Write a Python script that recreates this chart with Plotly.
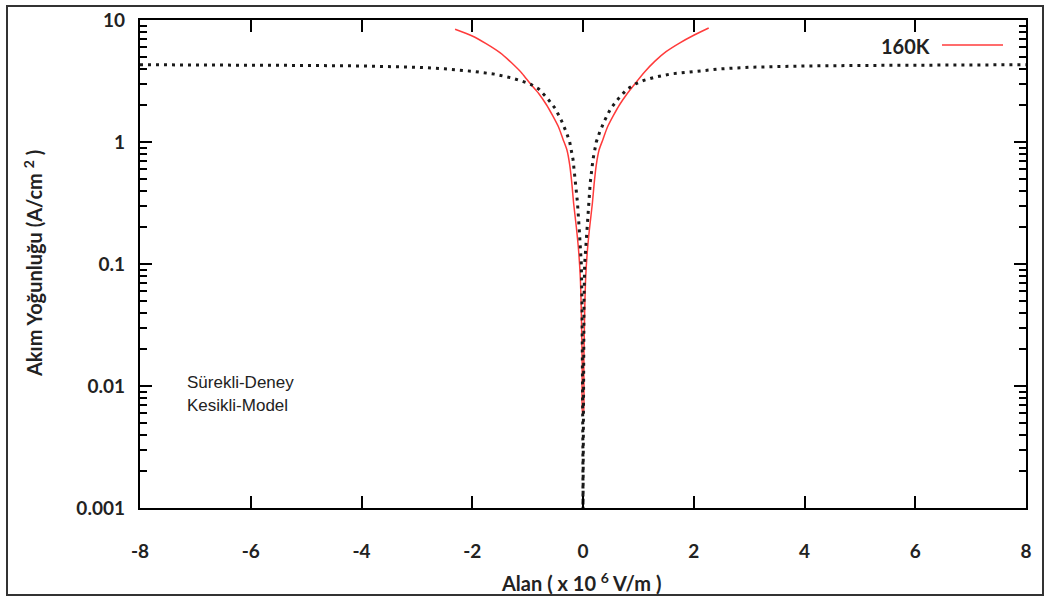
import plotly.graph_objects as go

# Sürekli-Deney (experimental, red)
exp_x = [-2.31, -2.0, -1.75, -1.5, -1.3, -1.1, -0.95, -0.8, -0.66, -0.55, -0.44, -0.36, -0.29, -0.24, -0.2,
         -0.17, -0.12, -0.08, -0.05, -0.03, -0.015, -0.008,
         0.008, 0.015, 0.03, 0.05, 0.08, 0.12, 0.17, 0.2, 0.24, 0.29, 0.36, 0.44, 0.55, 0.66,
         0.8, 0.95, 1.1, 1.3, 1.5, 1.75, 2.0, 2.27]
exp_y = [8.4, 7.4, 6.4, 5.4, 4.5, 3.65, 3.0, 2.5, 2.02, 1.65, 1.32, 1.05, 0.86, 0.65, 0.45,
         0.316, 0.2, 0.13, 0.08, 0.04, 0.015, 0.006,
         0.006, 0.015, 0.04, 0.08, 0.13, 0.2, 0.316, 0.45, 0.65, 0.86, 1.05, 1.32, 1.65, 2.02,
         2.5, 3.05, 3.7, 4.6, 5.5, 6.5, 7.5, 8.6]

# Kesikli-Model (model, black dotted)
mod_x = [-8.0, -7.0, -6.0, -5.0, -4.0, -3.0, -2.5, -2.0, -1.6, -1.3, -1.1, -0.95, -0.8, -0.65, -0.5,
         -0.39, -0.3, -0.24, -0.18, -0.13, -0.1, -0.07, -0.045, -0.03, -0.018, -0.01, -0.005, -0.002, 0.0,
         0.002, 0.005, 0.01, 0.018, 0.03, 0.045, 0.07, 0.1, 0.13, 0.18, 0.24, 0.3, 0.39, 0.5, 0.65,
         0.8, 0.95, 1.1, 1.3, 1.6, 2.0, 2.5, 3.0, 4.0, 5.0, 6.0, 7.0, 8.0]
mod_y = [4.3, 4.29, 4.27, 4.24, 4.2, 4.1, 3.98, 3.8, 3.6, 3.36, 3.15, 2.98, 2.72, 2.3, 1.88,
         1.5, 1.2, 1.0, 0.72, 0.46, 0.32, 0.2, 0.13, 0.1, 0.05, 0.02, 0.007, 0.003, 0.0009,
         0.003, 0.007, 0.02, 0.05, 0.1, 0.13, 0.2, 0.32, 0.46, 0.72, 1.0, 1.2, 1.5, 1.88, 2.3,
         2.72, 3.0, 3.2, 3.4, 3.62, 3.8, 3.98, 4.1, 4.2, 4.24, 4.27, 4.29, 4.3]

x_ticks = [-8, -6, -4, -2, 0, 2, 4, 6, 8]
x_tick_labels = ["-8", "-6", "-4", "-2", "0", "2", "4", "6", "8"]
y_ticks = [0.001, 0.01, 0.1, 1, 10]
y_tick_labels = ["0.001", "0.01", "0.1", "1", "10"]
y_minor = [m * d for d in (0.001, 0.01, 0.1, 1) for m in range(2, 10)]

W, H = 1049, 597
L, R, T, B = 140, 1026, 20, 508
INK = "black"

fig = go.Figure()
fig.add_trace(go.Scatter(x=exp_x, y=exp_y, mode="lines",
                         line=dict(color="#ff3b3b", width=1.5, shape="spline", smoothing=0.6),
                         showlegend=False))
fig.add_trace(go.Scatter(x=mod_x, y=mod_y, mode="lines",
                         line=dict(color="#1a1a1a", width=3, dash="3px,5px"),
                         showlegend=False))

tickfont = dict(family="Lato", size=19, color="#222222", weight="bold")

# labels pushed away from the axis with an empty first line / trailing no-break spaces
fig.update_xaxes(range=[-8, 8], tickmode="array", tickvals=x_ticks,
                 ticktext=["<br>" + t for t in x_tick_labels],
                 ticks="inside", ticklen=12, tickwidth=2, tickcolor=INK,
                 showline=True, linecolor=INK, linewidth=2, mirror="ticks",
                 tickfont=tickfont)
fig.update_yaxes(type="log", range=[-3, 1], tickmode="array", tickvals=y_ticks,
                 ticktext=[t + "\u00a0\u00a0" for t in y_tick_labels],
                 ticks="inside", ticklen=12, tickwidth=2, tickcolor=INK,
                 minor=dict(tickmode="array", tickvals=y_minor, ticks="inside", ticklen=7,
                            tickwidth=2, tickcolor=INK),
                 showline=True, linecolor=INK, linewidth=2, mirror="ticks",
                 tickfont=tickfont)

def px(xp):
    return (xp - L) / (R - L)

def py(yp):
    return (B - yp) / (B - T)

annotations = [
    dict(text="Alan ( x 10 <sup>6</sup> V/m )", x=px(581), y=py(582), xref="paper", yref="paper",
         showarrow=False, font=dict(family="Lato", size=20, color="#222222", weight="bold"),
         xanchor="center", yanchor="middle"),
    dict(text="Akım Yoğunluğu (A/cm <sup>2</sup> )", x=px(33), y=py(264), xref="paper", yref="paper",
         showarrow=False, textangle=-90, font=dict(family="Lato", size=20, color="#222222", weight="bold"),
         xanchor="center", yanchor="middle"),
    dict(text="Sürekli-Deney", x=px(185), y=py(382), xref="paper", yref="paper", showarrow=False,
         font=dict(family="Liberation Sans", size=17, color="#222222"), xanchor="left", yanchor="middle"),
    dict(text="Kesikli-Model", x=px(185), y=py(405), xref="paper", yref="paper", showarrow=False,
         font=dict(family="Liberation Sans", size=17, color="#222222"), xanchor="left", yanchor="middle"),
    dict(text="160K", x=px(932), y=py(46), xref="paper", yref="paper", showarrow=False,
         font=dict(family="Lato", size=20, color="#222222", weight="bold"), xanchor="right", yanchor="middle"),
]

shapes = [
    dict(type="rect", xref="paper", yref="paper", x0=px(7), x1=px(1043), y0=py(595), y1=py(6),
         line=dict(color="#333333", width=2)),
    dict(type="line", xref="paper", yref="paper", x0=px(942), x1=px(1003), y0=py(45), y1=py(45),
         line=dict(color="#ff3b3b", width=1.5)),
]

fig.update_layout(width=W, height=H, margin=dict(l=L, r=W - R, t=T, b=H - B, autoexpand=False),
                  plot_bgcolor="white",
                  annotations=annotations, shapes=shapes, showlegend=False)

fig.write_html("out.html")
